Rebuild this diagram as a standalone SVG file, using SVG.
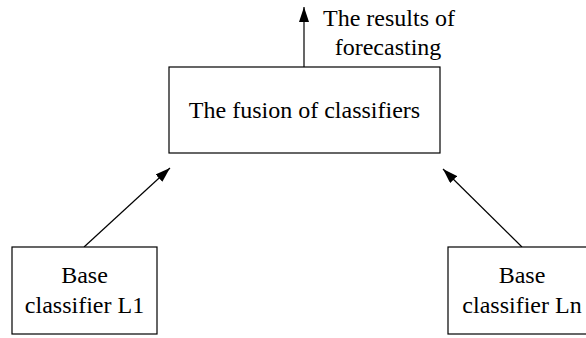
<svg xmlns="http://www.w3.org/2000/svg" width="586" height="338" viewBox="0 0 586 338">
<style>
.box{fill:#fff;stroke:#000;stroke-width:1.2}
.t{font-family:"Liberation Serif","Times New Roman",serif;font-size:24px;fill:#000;text-anchor:middle}
.c{stroke:#000;stroke-width:1.2;fill:none;marker-end:url(#ah)}
</style>
<defs>
<marker id="ah" viewBox="0 0 15 10" refX="15" refY="5" markerWidth="15" markerHeight="10" markerUnits="userSpaceOnUse" orient="auto">
<path d="M0,0 L15,5 L0,10 z" fill="#000"/>
</marker>
</defs>
<rect width="586" height="338" fill="#fff"/>
<g id="connectors">
<line class="c" x1="304" y1="67" x2="304" y2="7"/>
<line class="c" x1="84" y1="247" x2="170" y2="168"/>
<line class="c" x1="522" y1="247" x2="443" y2="169"/>
</g>
<g id="fusion">
<rect class="box" x="169" y="67" width="271" height="86"/>
<text class="t" x="304.5" y="118">The fusion of classifiers</text>
</g>
<g id="results">
<text class="t" x="389" y="26">The results of</text>
<text class="t" x="388" y="55">forecasting</text>
</g>
<g id="base1">
<rect class="box" x="12" y="247" width="145" height="87"/>
<text class="t" x="84.5" y="283">Base</text>
<text class="t" x="84.5" y="313">classifier L1</text>
</g>
<g id="basen">
<rect class="box" x="448" y="247" width="140" height="87"/>
<text class="t" x="522" y="283">Base</text>
<text class="t" x="522" y="313">classifier Ln</text>
</g>
</svg>
